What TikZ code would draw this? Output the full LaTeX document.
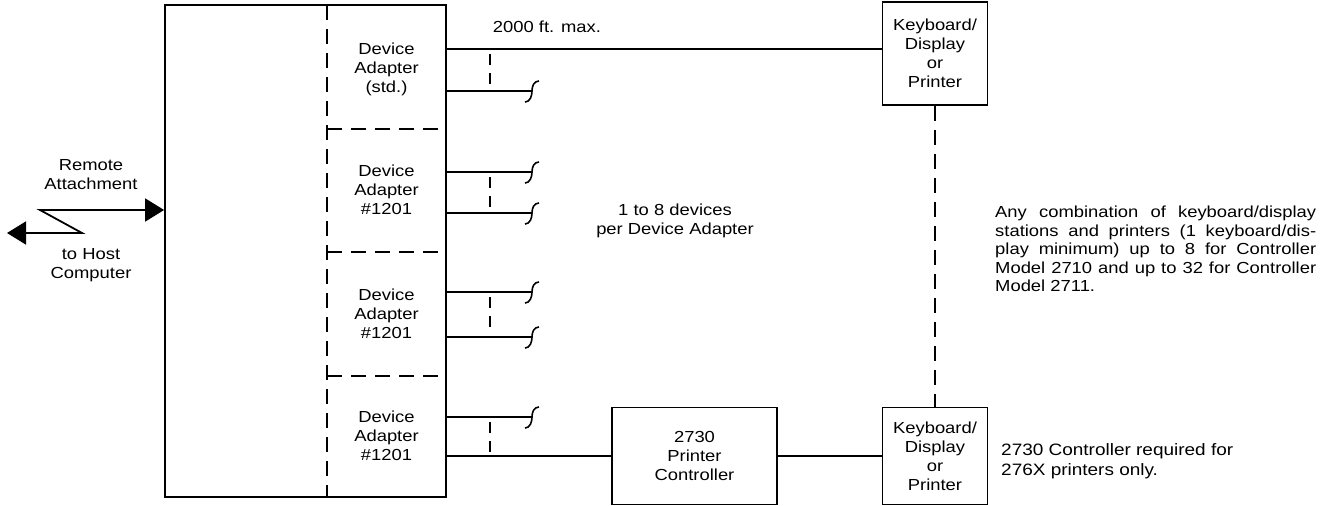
\documentclass[tikz,border=0pt]{standalone}
\usepackage{fontspec}
\setmainfont{Liberation Sans}[FakeStretch=1.15]
\usetikzlibrary{arrows.meta, positioning}

\newcommand{\boxtext}{\fontsize{16}{19}\selectfont}
\newcommand{\sidetext}{\fontsize{16}{18.5}\selectfont}

\tikzset{
  unit/.style={draw, line width=1.8pt, align=center, inner sep=0pt, font=\boxtext},
  note/.style={align=center, inner sep=0pt, font=\boxtext},
  feed/.style={line width=1.8pt},
  tie/.style={line width=1.6pt, dash pattern=on 15pt off 9pt},
  shorttie/.style={line width=1.6pt, dash pattern=on 11pt off 8pt},
  pics/cut/.style={code={
    \draw[line width=1.6pt] (-7,11) .. controls (-2,11) and (0,5) .. (0,0)
      .. controls (0,-5) and (2,-10) .. (7,-10);}},
}

\begin{document}
\begin{tikzpicture}[x=1pt, y=-1pt]
  \useasboundingbox (0,0) rectangle (1326,506);
  % controller frame with its four adapter slots
  \node[unit, minimum width=281pt, minimum height=492pt] (ctrl) at (305.5,251) {};
  \draw[tie] (327,5) -- (327,497);
  \draw[tie] (327,129) -- (446,129);
  \draw[tie] (327,252) -- (446,252);
  \draw[tie] (327,376) -- (446,376);
  \node[note] (std) at (386.5,69) {Device\\Adapter\\(std.)};
  \node[note] (da1) at (386.5,190) {Device\\Adapter\\\#1201};
  \node[note] (da2) at (386.5,314) {Device\\Adapter\\\#1201};
  \node[note] (da3) at (386.5,436) {Device\\Adapter\\\#1201};

  % host link
  \coordinate (host) at (7,233);
  \coordinate (bend) at (82,233);
  \coordinate (link) at (40,210);
  \draw[feed, {Triangle[length=19pt,width=23pt]}-{Triangle[length=19pt,width=23pt]}]
    (host) -- (bend) -- (link) -- (ctrl.west |- link);
  \node[note] (remote) at (91,175) {Remote\\Attachment};
  \node[note] (hostlbl) at (91,265) {to Host\\Computer};

  % terminals
  \node[unit, minimum width=105pt, minimum height=103pt] (kd1) at (935,53.5) {Keyboard/\\Display\\or\\Printer};
  \node[unit, minimum width=105pt, minimum height=97pt] (kd2) at (935,456) {Keyboard/\\Display\\or\\Printer};
  \node[unit, minimum width=165pt, minimum height=97pt] (pc) at (694.5,456) {2730\\Printer\\Controller};

  % cables
  \coordinate (top) at (446,49);
  \draw[feed] (top) -- (top -| kd1.west);
  \node[note] (dist) at (547,27) {2000 ft. max.};
  \draw[feed] (ctrl.east |- pc) -- (pc);
  \draw[feed] (pc) -- (kd2);
  \draw[tie] (kd1) -- (kd2);

  % open ports
  \coordinate (s1) at (532,91);
  \coordinate (s2) at (532,172);
  \coordinate (s3) at (532,213);
  \coordinate (s4) at (532,292);
  \coordinate (s5) at (532,337);
  \coordinate (s6) at (532,417);
  \draw[feed] (ctrl.east |- s1) -- (s1) pic {cut};
  \draw[feed] (ctrl.east |- s2) -- (s2) pic {cut};
  \draw[feed] (ctrl.east |- s3) -- (s3) pic {cut};
  \draw[feed] (ctrl.east |- s4) -- (s4) pic {cut};
  \draw[feed] (ctrl.east |- s5) -- (s5) pic {cut};
  \draw[feed] (ctrl.east |- s6) -- (s6) pic {cut};
  \draw[shorttie] (490,54) -- (490,86);
  \draw[shorttie] (490,177) -- (490,208);
  \draw[shorttie] (490,297) -- (490,332);
  \draw[shorttie] (490,422) -- (490,453);

  % notes
  \node[note] (per) at (675,221) {1 to 8 devices\\per Device Adapter};
  \node[font=\sidetext, text width=321pt, align=justify, inner sep=0pt, anchor=west] (mix) at (995,249)
    {Any combination of keyboard/display\linebreak
     stations and printers (1 keyboard/dis-\linebreak
     play minimum) up to 8 for Controller\linebreak
     Model 2710 and up to 32 for Controller\linebreak
     Model 2711.};
  \node[anchor=west, align=left, inner sep=0pt, font=\fontsize{16.5}{20}\selectfont] (req) at (1001,461)
    {2730 Controller required for\\276X printers only.};
\end{tikzpicture}
\end{document}
